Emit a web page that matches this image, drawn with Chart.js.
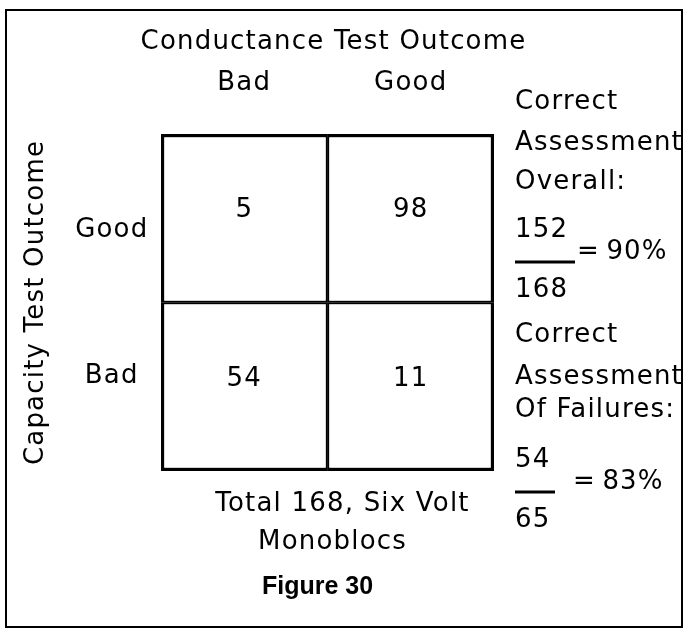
<!DOCTYPE html>
<html lang="en">
<head>
<meta charset="UTF-8">
<title>Figure 30</title>
<script src="https://cdn.jsdelivr.net/npm/chart.js@4.4.1/dist/chart.umd.min.js"></script>
<style>
    body { margin: 0; background: #fff; }
    canvas { display: block; }
</style>
</head>
<body>
<canvas id="myChart" width="684" height="629"></canvas>
<script>
    // columns: conductance test outcome, rows: capacity test outcome (bottom to top)
    const conductanceLabels = ['Bad', 'Good'];
    const capacityLabels = ['Bad', 'Good'];
    const capacityBadCounts = [54, 11];
    const capacityGoodCounts = [5, 98];
    const overallFraction = [152, 168];
    const failuresFraction = [54, 65];
    const totalNote = ['Total 168, Six Volt', 'Monoblocs'];

    const FONT = "'DejaVu Sans', sans-serif";
    Chart.defaults.font.family = FONT;
    Chart.defaults.font.size = 26;
    Chart.defaults.color = '#000';

    // thick outer box, shared inner lines
    function cellBorder(ctx) {
        const topRow = ctx.datasetIndex === 1;
        const leftCol = ctx.dataIndex === 0;
        return {
            top: topRow ? 3.5 : 2,
            bottom: topRow ? 2 : 3.5,
            left: leftCol ? 3.5 : 2,
            right: leftCol ? 2 : 3.5
        };
    }

    // the original lettering is wide, so space the letters out a bit
    const spacing = {
        id: 'spacing',
        beforeDraw(chart) {
            chart.ctx.letterSpacing = '1.2px';
        }
    };

    const cellValues = {
        id: 'cellValues',
        afterDatasetsDraw(chart) {
            const ctx = chart.ctx;
            ctx.save();
            ctx.font = '26px ' + FONT;
            ctx.fillStyle = '#000';
            ctx.textAlign = 'center';
            ctx.textBaseline = 'middle';
            chart.data.datasets.forEach((ds, i) => {
                chart.getDatasetMeta(i).data.forEach((bar, j) => {
                    ctx.fillText(ds.counts[j], bar.x, (bar.y + bar.base) / 2 - 8);
                });
            });
            ctx.restore();
        }
    };

    const notes = {
        id: 'notes',
        afterDraw(chart) {
            const ctx = chart.ctx;
            const a = chart.chartArea;
            const x0 = a.right + 21;
            const t = a.top;
            const cx = (a.left + a.right) / 2;
            ctx.save();
            ctx.fillStyle = '#000';
            ctx.strokeStyle = '#000';
            ctx.textBaseline = 'middle';
            ctx.font = '26px ' + FONT;

            // column heading (too wide for the axis title box, so drawn here)
            ctx.textAlign = 'center';
            ctx.fillText('Conductance Test Outcome', cx + 6, t - 92);

            ctx.textAlign = 'left';
            function fraction(f, yNum, yRule, yDen, ruleW, eqX) {
                ctx.fillText(f[0], x0, yNum);
                ctx.fillText(f[1], x0, yDen);
                ctx.fillRect(x0, yRule - 1.5, ruleW, 3);
                ctx.fillText('=\u2009' + Math.round(100 * f[0] / f[1]) + '%', x0 + eqX, yRule - 10);
            }

            ctx.fillText('Correct', x0, t - 32);
            ctx.fillText('Assessment', x0, t + 9);
            ctx.fillText('Overall:', x0, t + 48);
            fraction(overallFraction, t + 96, t + 128, t + 156, 60, 62);

            ctx.fillText('Correct', x0, t + 201);
            ctx.fillText('Assessment', x0, t + 243);
            ctx.fillText('Of Failures:', x0, t + 276);
            fraction(failuresFraction, t + 326, t + 358, t + 386, 40, 58);

            ctx.textAlign = 'center';
            ctx.fillText(totalNote[0], cx + 15, a.bottom + 33);
            ctx.fillText(totalNote[1], cx + 5, a.bottom + 71);
            ctx.letterSpacing = '0px';
            ctx.font = "bold 25px 'Liberation Sans', sans-serif";
            ctx.fillText('Figure 30', cx - 10, a.bottom + 116);

            // frame round the figure
            ctx.lineWidth = 2;
            ctx.strokeRect(6, 10, 676, 617);
            ctx.restore();
        }
    };

    const ctx = document.getElementById('myChart').getContext('2d');
    const myChart = new Chart(ctx, {
        type: 'bar',
        data: {
            labels: conductanceLabels,
            datasets: [{
                label: capacityLabels[0],
                data: [1, 1],
                counts: capacityBadCounts,
                backgroundColor: '#fff',
                borderColor: '#000',
                borderWidth: cellBorder,
                borderSkipped: false,
                barPercentage: 1,
                categoryPercentage: 1
            }, {
                label: capacityLabels[1],
                data: [1, 1],
                counts: capacityGoodCounts,
                backgroundColor: '#fff',
                borderColor: '#000',
                borderWidth: cellBorder,
                borderSkipped: false,
                barPercentage: 1,
                categoryPercentage: 1
            }]
        },
        options: {
            responsive: false,
            animation: false,
            layout: { padding: { left: 10, top: 10, right: 190, bottom: 158 } },
            plugins: {
                legend: { display: false },
                tooltip: { enabled: false }
            },
            scales: {
                x: {
                    position: 'top',
                    stacked: true,
                    grid: { display: false, drawTicks: false },
                    border: { display: false },
                    ticks: { padding: 35 },
                    afterFit(scale) { scale.height = 124; }
                },
                y: {
                    stacked: true,
                    min: 0,
                    max: 2,
                    grid: { display: false, drawTicks: false },
                    border: { display: false },
                    afterBuildTicks(scale) { scale.ticks = [{ value: 0.56 }, { value: 1.43 }]; },
                    ticks: { padding: 15, crossAlign: 'center', callback: (v, i) => capacityLabels[i] },
                    title: { display: true, text: 'Capacity Test Outcome', padding: { top: 11, bottom: 0 } },
                    afterFit(scale) { scale.width = 151; }
                }
            }
        },
        plugins: [spacing, cellValues, notes]
    });
</script>
</body>
</html>
